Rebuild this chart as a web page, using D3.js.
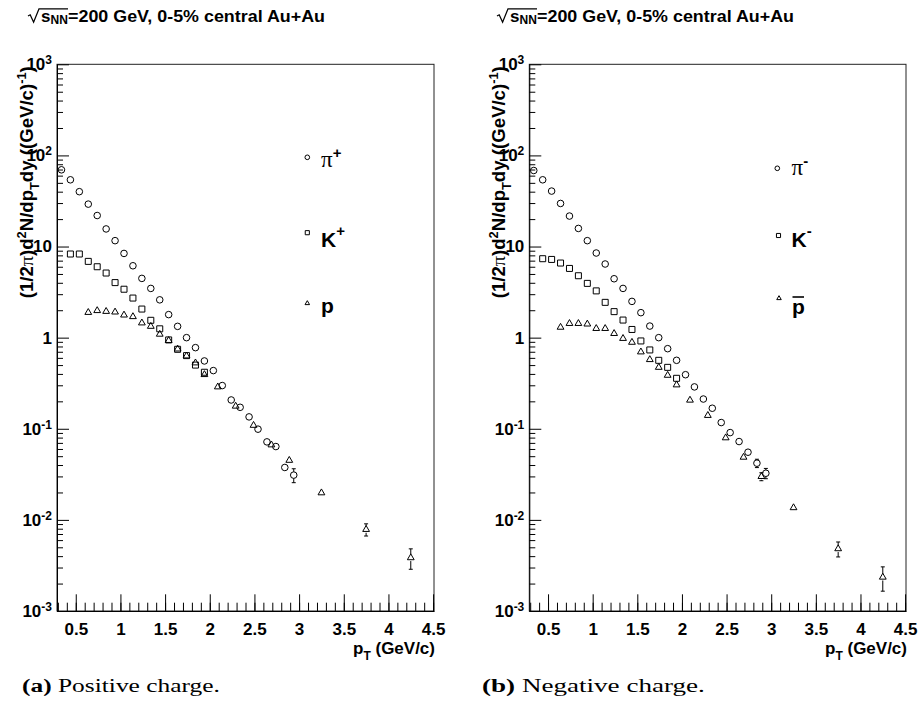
<!DOCTYPE html>
<html><head><meta charset="utf-8">
<script src="https://cdn.jsdelivr.net/npm/d3@7"></script>
<style>body{margin:0;background:#fff}</style>
</head><body>
<svg id="c" width="920" height="721" xmlns="http://www.w3.org/2000/svg"></svg>
<script>
// ---------------- data ----------------
const pionPt = [0.34,0.44,0.54,0.64,0.74,0.84,0.94,1.04,1.14,1.24,1.34,1.44,1.54,1.64,1.74,1.84,1.94,2.04,2.14,2.24,2.34,2.44,2.54,2.64,2.74,2.84,2.94];
const piPlus = [69.5,54,40,29.2,21.9,15.6,11.6,8.4,6.15,4.47,3.47,2.6,1.79,1.33,1.0,0.777,0.555,0.435,0.298,0.207,0.172,0.135,0.099,0.0718,0.0638,0.0376,0.031];
const piPlusErr = [0,0,0,0,0,0,0,0,0,0,0,0,0,0,0,0,0,0,0,0,0,0,0,0,0,0.003,0.0054];
const piMinus = [68.3,54,40.6,29.7,21.6,15.8,11.6,8.49,6.43,4.43,3.47,2.5,1.88,1.34,1.0,0.757,0.564,0.392,0.288,0.212,0.168,0.117,0.0908,0.0724,0.0553,0.0419,0.0325];
const piMinusErr = [0,0,0,0,0,0,0,0,0,0,0,0,0,0,0,0,0,0,0,0,0,0,0,0,0,0.0044,0.0042];

const kaonPt = [0.44,0.54,0.64,0.74,0.84,0.94,1.04,1.14,1.24,1.34,1.44,1.54,1.64,1.74,1.84,1.94];
const kPlus = [8.28,8.28,6.87,6.0,5.12,4.02,3.4,2.72,2.06,1.55,1.25,0.944,0.745,0.635,0.50,0.417];
const kMinus = [7.35,7.22,6.59,5.75,4.78,3.94,3.26,2.44,1.93,1.56,1.23,0.92,0.733,0.564,0.472,0.358];

const protonPt = [0.64,0.74,0.84,0.94,1.04,1.14,1.24,1.34,1.44,1.54,1.64,1.74,1.84,1.94,2.09,2.29,2.49,2.69,2.89,3.25,3.75,4.25];
const proton = [1.89,1.98,1.94,1.91,1.77,1.70,1.45,1.33,1.09,0.93,0.75,0.63,0.528,0.393,0.288,0.177,0.109,0.0665,0.045,0.0198,0.00785,0.00384];
const protonErr = [0,0,0,0,0,0,0,0,0,0,0,0,0,0,0,0,0,0,0.003,0.001,0.0012,0.00097];
const pbar = [1.30,1.43,1.43,1.41,1.26,1.26,1.11,0.98,0.889,0.697,0.574,0.472,0.386,0.303,0.206,0.14,0.0795,0.0487,0.0299,0.0136,0.00482,0.00235];
const pbarErr = [0,0,0,0,0,0,0,0,0,0,0,0,0,0,0,0,0,0,0.003,0.0008,0.0009,0.0007];

const xTicksMajor = [0.5,1,1.5,2,2.5,3,3.5,4,4.5];
const xTickLabels = ["0.5","1","1.5","2","2.5","3","3.5","4","4.5"];
const yTicksMajor = [1e-3,1e-2,1e-1,1,10,100,1000];
const xDomain = [0.29, 4.51];
const yDomain = [1e-3, 1e3];

// ---------------- drawing ----------------
const SANS = "'Liberation Sans', Arial, Helvetica, sans-serif";
const SERIF = "'Liberation Serif', 'Times New Roman', serif";
const svg = d3.select("#c");
svg.append("rect").attr("width",920).attr("height",721).attr("fill","#fff");

const yTop = 64.3, yBot = 611;
const y = d3.scaleLog().domain(yDomain).range([yBot, yTop]);

const yMinor = [];
for (let e=-3; e<3; e++) for (let m=2; m<=9; m++) yMinor.push(+(m*Math.pow(10,e)).toPrecision(3));
const xMinor = [];
for (let i=3; i<=45; i++) xMinor.push(i/10);

const symCircle = d3.symbol(d3.symbolCircle, 34);
const symSquare = d3.symbol(d3.symbolSquare, 36);
const symTri = d3.symbol(d3.symbolTriangle, 20);

function drawPanel(cfg){
  const g = svg.append("g");
  const x = d3.scaleLinear().domain(xDomain).range([cfg.x0, cfg.x1]);

  // frame
  g.append("rect").attr("x",cfg.x0).attr("y",yTop).attr("width",cfg.x1-cfg.x0).attr("height",yBot-yTop)
    .attr("fill","none").attr("stroke","#222").attr("stroke-width",1);

  // y axis minor
  g.append("g").attr("transform",`translate(${cfg.x0},0)`).style("color","#000")
    .call(d3.axisLeft(y).tickValues(yMinor).tickSizeInner(-6).tickSizeOuter(0).tickFormat(""))
    .call(a=>a.select(".domain").remove());
  // y axis major
  const ya = g.append("g").attr("transform",`translate(${cfg.x0},0)`).style("color","#000")
    .call(d3.axisLeft(y).tickValues(yTicksMajor).tickSizeInner(-12).tickSizeOuter(0).tickPadding(5).tickFormat(""));
  ya.selectAll(".tick text").each(function(d){
    const t = d3.select(this);
    const e = Math.round(Math.log10(d));
    t.attr("font-family",SANS).attr("font-weight","bold").attr("font-size",17).attr("fill","#000");
    if (e===0) t.text("1");
    else if (e===1) t.text("10");
    else {
      t.append("tspan").text("10");
      t.append("tspan").attr("dy","-0.5em").attr("font-size",12).text(e);
    }
  });

  // x axis minor
  g.append("g").attr("transform",`translate(0,${yBot})`).style("color","#000")
    .call(d3.axisBottom(x).tickValues(xMinor).tickSizeInner(-8.3).tickSizeOuter(0).tickFormat(""))
    .call(a=>a.select(".domain").remove());
  const xa = g.append("g").attr("transform",`translate(0,${yBot})`).style("color","#000")
    .call(d3.axisBottom(x).tickValues(xTicksMajor).tickSizeInner(-16.7).tickSizeOuter(0)
      .tickFormat((d,i)=>xTickLabels[i]));
  xa.selectAll(".tick text").attr("font-family",SANS).attr("font-weight","bold").attr("font-size",17)
    .attr("fill","#000").attr("y",24).attr("dy",0);

  // x title
  const xt = g.append("text").attr("x",cfg.x1+1).attr("y",654).attr("text-anchor","end")
    .attr("font-family",SANS).attr("font-weight","bold").attr("font-size",17);
  xt.append("tspan").text("p");
  xt.append("tspan").attr("dy",6).attr("font-size",12).text("T");
  xt.append("tspan").attr("dy",-6).text(" (GeV/c)");

  // y title
  const yt = g.append("text").attr("transform",`translate(${cfg.x0-24},${yTop+2}) rotate(-90)`)
    .attr("text-anchor","end").attr("font-family",SANS).attr("font-weight","bold").attr("font-size",17.5)
    .attr("textLength",232).attr("lengthAdjust","spacingAndGlyphs");
  yt.append("tspan").text("(1/2");
  yt.append("tspan").attr("font-family",SERIF).attr("font-weight","normal").attr("font-size",19).text("π");
  yt.append("tspan").text(")d");
  yt.append("tspan").attr("dy",-7).attr("font-size",12).text("2");
  yt.append("tspan").attr("dy",7).text("N/dp");
  yt.append("tspan").attr("dy",6).attr("font-size",12).text("T");
  yt.append("tspan").attr("dy",-6).text("dy ((GeV/c)");
  yt.append("tspan").attr("dy",-7).attr("font-size",12).text("-1");
  yt.append("tspan").attr("dy",7).text(")");

  // series
  const plot = g.append("g");
  cfg.series.forEach(s=>{
    const pts = s.pt.map((p,i)=>({p, v:s.v[i], e: s.err ? s.err[i] : 0}));
    pts.filter(d=>d.e>0).forEach(d=>{
      const cx = x(d.p), cy = y(d.v), h = 3.3;
      const yu = y(d.v + d.e), yd = y(d.v - d.e);
      if (yu < cy - h) {
        plot.append("line").attr("x1",cx).attr("x2",cx).attr("y1",cy-h).attr("y2",yu).attr("stroke","#000");
        plot.append("line").attr("x1",cx-2).attr("x2",cx+2).attr("y1",yu).attr("y2",yu).attr("stroke","#000");
      }
      if (yd > cy + h) {
        plot.append("line").attr("x1",cx).attr("x2",cx).attr("y1",cy+h).attr("y2",yd).attr("stroke","#000");
        plot.append("line").attr("x1",cx-2).attr("x2",cx+2).attr("y1",yd).attr("y2",yd).attr("stroke","#000");
      }
    });
    plot.selectAll(null).data(pts).enter().append("path")
      .attr("d", s.sym)
      .attr("transform", d=>`translate(${x(d.p)},${y(d.v)})`)
      .attr("fill","none").attr("stroke","#000").attr("stroke-width",1);
  });

  // legend
  cfg.legend.forEach(L=>{
    g.append("path").attr("d", L.sym).attr("transform",`translate(${L.mx},${L.my})`)
      .attr("fill","none").attr("stroke","#000").attr("stroke-width",1);
    const t = g.append("text").attr("x",L.tx).attr("y",L.ty).attr("font-family",SANS).attr("font-weight","bold").attr("font-size",21);
    if (L.kind==="pi") {
      t.append("tspan").attr("font-family",SERIF).attr("font-weight","normal").attr("font-size",23).text("π");
      t.append("tspan").attr("dy",-9).attr("font-size",15).text(L.sup);
    } else if (L.kind==="K") {
      t.append("tspan").text("K");
      t.append("tspan").attr("dy",-11).attr("font-size",15).text(L.sup);
    } else {
      t.append("tspan").text("p");
      if (L.bar) {
        g.append("line").attr("x1",L.tx+0.5).attr("x2",L.tx+12).attr("y1",L.ty-16.5).attr("y2",L.ty-16.5)
          .attr("stroke","#000").attr("stroke-width",1.6);
      }
    }
  });

  // panel title
  const tx = cfg.titleX;
  g.append("path").attr("d",`M${tx},16 L${tx+2.2},14.8 L${tx+5.6},22.2 L${tx+11},8.8 L${tx+40},8.8`)
    .attr("fill","none").attr("stroke","#000").attr("stroke-width",1.3);
  const tt = g.append("text").attr("x",tx+13).attr("y",21.7).attr("font-family",SANS).attr("font-weight","bold").attr("font-size",17);
  tt.append("tspan").text("s");
  tt.append("tspan").attr("dy",2.5).attr("font-size",12).text("NN");
  g.append("text").attr("x",tx+40).attr("y",21.7).attr("font-family",SANS).attr("font-weight","bold").attr("font-size",16.5)
    .attr("textLength",257).attr("lengthAdjust","spacingAndGlyphs").text("=200 GeV, 0-5% central Au+Au");

  // caption (stretched horizontally to the measured width)
  const capG = g.append("g");
  const cap = capG.append("text").attr("x",0).attr("y",0).attr("font-family",SERIF).attr("font-size",19.5);
  cap.append("tspan").attr("font-weight","bold").text(cfg.capTag);
  cap.append("tspan").text(" " + cfg.capText);
  const w = cap.node().getComputedTextLength() || cfg.capW;
  capG.attr("transform",`translate(${cfg.capX},692) scale(${cfg.capW / w},1)`);
}

drawPanel({
  x0:57, x1:434, titleX:28, capX:22, capW:198, capTag:"(a)", capText:"Positive charge.",
  series:[
    {pt:pionPt, v:piPlus, err:piPlusErr, sym:symCircle},
    {pt:kaonPt, v:kPlus, sym:symSquare},
    {pt:protonPt, v:proton, err:protonErr, sym:symTri}
  ],
  legend:[
    {sym:d3.symbol(d3.symbolCircle,17)(), mx:307.3, my:157.3, tx:321, ty:166.5, kind:"pi", sup:"+"},
    {sym:d3.symbol(d3.symbolSquare,17)(), mx:307.3, my:232.7, tx:321, ty:246.7, kind:"K", sup:"+"},
    {sym:d3.symbol(d3.symbolTriangle,9)(), mx:307.3, my:303.3, tx:321, ty:313.3, kind:"p"}
  ]
});
drawPanel({
  x0:529.3, x1:906, titleX:497, capX:482, capW:223, capTag:"(b)", capText:"Negative charge.",
  series:[
    {pt:pionPt, v:piMinus, err:piMinusErr, sym:symCircle},
    {pt:kaonPt, v:kMinus, sym:symSquare},
    {pt:protonPt, v:pbar, err:pbarErr, sym:symTri}
  ],
  legend:[
    {sym:d3.symbol(d3.symbolCircle,17)(), mx:777.3, my:168.3, tx:791.5, ty:175, kind:"pi", sup:"-"},
    {sym:d3.symbol(d3.symbolSquare,17)(), mx:778.5, my:235.5, tx:791.5, ty:246.7, kind:"K", sup:"-"},
    {sym:d3.symbol(d3.symbolTriangle,9)(), mx:779, my:298.3, tx:792, ty:313.5, kind:"p", bar:true}
  ]
});
</script>
</body></html>
